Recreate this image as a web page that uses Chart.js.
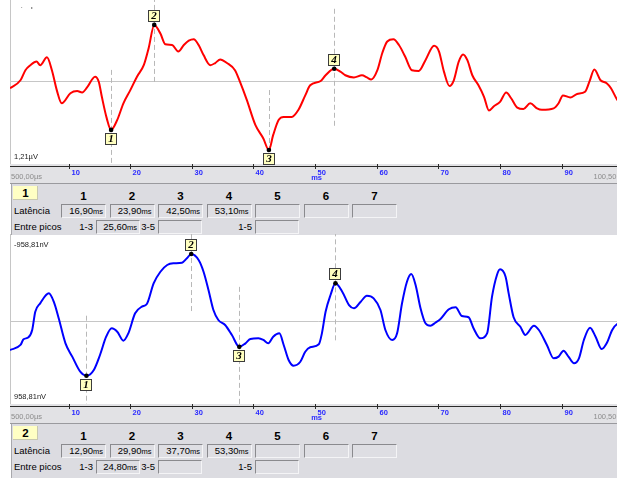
<!DOCTYPE html>
<html>
<head>
<meta charset="utf-8">
<script src="https://cdn.jsdelivr.net/npm/chart.js@4.4.1/dist/chart.umd.min.js"></script>
<style>
    html, body {
        margin: 0;
        padding: 0;
        width: 617px;
        height: 478px;
        overflow: hidden;
        background: #fff;
        font-family: "Liberation Sans", Arial, sans-serif;
    }
    .block { position: absolute; left: 0; width: 640px; height: 241px; }
    .block canvas { position: absolute; left: 0; top: 0; }
    .panel {
        position: absolute;
        left: 11px;
        top: 190px;
        width: 629px;
        height: 51px;
        background: #dcdce1;
        box-shadow: inset 1px 0 #a8a8ac;
    }
    .panel.last { height: 60px; }
    .panel div { position: absolute; white-space: nowrap; }
    .tab {
        width: 25px;
        height: 14px;
        line-height: 14px;
        background: #ffffc4;
        box-shadow: inset -1px -1px #c8c8b0;
        text-align: center;
        font-weight: bold;
        font-size: 11.5px;
    }
    .head { width: 45px; height: 14px; line-height: 14px; text-align: center; font-weight: bold; font-size: 11.5px; }
    .label { height: 14px; line-height: 14px; font-size: 9.5px; color: #000; }
    .sub { height: 14px; line-height: 14px; font-size: 9.5px; text-align: right; width: 20px; color: #000; }
    .field {
        box-sizing: border-box;
        width: 45px;
        height: 14px;
        line-height: 12px;
        border: 1px solid;
        border-color: #8a8a8e #f4f4f6 #f4f4f6 #8a8a8e;
        background: #dedee3;
        text-align: right;
        padding-right: 2px;
        font-size: 9.5px;
        color: #000;
    }
    .field small { font-size: 7.5px; }
</style>
</head>
<body>
<div class="block" id="block1" style="top:-6px">
    <canvas id="chartTop" width="640" height="190"></canvas>
    <div class="panel" id="panelTop"></div>
</div>
<div class="block" id="block2" style="top:234px">
    <canvas id="chartBottom" width="640" height="190"></canvas>
    <div class="panel last" id="panelBottom"></div>
</div>
<script>
// time axis (ms)
const timeRange = [0.5, 100.5];
const xTicks = [10, 20, 30, 40, 50, 60, 70, 80, 90];
const timeEndLabels = ['500,00µs', '100,50ms'];
const peakColumns = [1, 2, 3, 4, 5, 6, 7];
const interpeakPairs = [[1, 3], [3, 5], [1, 5]];

// trace 1 (µV, negative up)
const topRange = 1.21;
const topUnit = 'µV';
const topTimes = [0.5, 2.2, 3.0, 3.8, 4.8, 5.4, 6.5, 7.3, 8.1, 8.9, 10.3, 11.4, 12.2, 13.0, 14.3, 14.9, 15.4, 16.2, 16.9, 17.9,
    18.9, 20.0, 21.1, 22.2, 23.0, 23.9, 24.9, 25.7, 26.8, 27.8, 28.7, 29.5, 30.3, 31.1, 31.9, 33.0, 33.8, 34.6, 35.7, 37.0,
    37.8, 38.9, 40.3, 41.6, 42.5, 43.2, 44.1, 44.9, 46.2, 47.3, 48.4, 49.2, 50.9, 51.7, 53.1, 54.1, 54.9, 56.3, 57.6, 58.4,
    59.1, 60.1, 60.9, 61.7, 62.7, 63.6, 64.6, 65.7, 66.8, 67.9, 69.3, 70.1, 70.9, 71.8, 72.5, 73.3, 74.0, 74.7, 75.5, 76.5,
    77.4, 78.2, 79.0, 80.0, 81.0, 81.8, 82.8, 83.8, 84.9, 86.0, 86.8, 88.7, 89.5, 90.2, 91.4, 92.5, 93.8, 94.5, 95.3, 96.3,
    97.3, 98.0, 99.0, 100.5];
const topValues = [0.10, -0.01, -0.15, -0.22, -0.27, -0.22, -0.33, -0.15, 0.13, 0.31, 0.17, 0.14, 0.16, 0.09, -0.06, 0.01, 0.22, 0.52, 0.68, 0.54,
    0.31, 0.13, -0.06, -0.22, -0.46, -0.78, -0.66, -0.51, -0.50, -0.41, -0.50, -0.56, -0.58, -0.50, -0.36, -0.22, -0.25, -0.30, -0.25, -0.15,
    0.01, 0.26, 0.61, 0.80, 0.96, 0.75, 0.54, 0.50, 0.50, 0.40, 0.20, 0.06, 0.00, -0.08, -0.17, -0.13, -0.08, -0.05, -0.08, -0.05,
    -0.02, -0.15, -0.39, -0.55, -0.58, -0.50, -0.34, -0.15, -0.14, -0.29, -0.49, -0.41, -0.13, 0.07, -0.01, -0.27, -0.37, -0.29, -0.08, 0.06,
    0.22, 0.41, 0.35, 0.29, 0.16, 0.24, 0.37, 0.39, 0.31, 0.38, 0.40, 0.38, 0.31, 0.20, 0.23, 0.18, 0.15, 0.01, -0.16, -0.01,
    0.03, 0.10, 0.26, 0.40];
const topLatencies = [16.9, 23.9, 42.5, 53.1];

// trace 2 (nV, negative up)
const bottomRange = 958.81;
const bottomUnit = 'nV';
const bottomTimes = [0.5, 2.2, 2.7, 3.5, 4.1, 4.6, 5.4, 6.8, 7.6, 8.4, 9.5, 10.6, 11.9, 12.9, 14.1, 15.1, 16.1, 17.0, 17.9, 18.9,
    19.7, 20.8, 21.9, 22.7, 23.8, 24.9, 26.0, 27.0, 28.4, 29.2, 29.9, 31.1, 31.9, 32.7, 33.5, 34.3, 35.4, 36.5, 37.7, 38.7,
    39.5, 40.8, 41.6, 42.4, 43.2, 44.2, 44.9, 45.7, 46.5, 47.6, 48.4, 49.2, 50.6, 51.1, 51.7, 52.5, 53.3, 54.4, 55.5, 56.3,
    57.4, 58.4, 59.5, 60.6, 61.4, 62.5, 63.3, 64.1, 64.9, 65.6, 66.3, 67.1, 67.9, 68.7, 69.5, 70.3, 71.7, 72.8, 73.8, 74.9,
    75.7, 76.8, 77.9, 78.7, 79.5, 80.0, 80.9, 81.4, 82.2, 83.3, 84.1, 85.5, 86.3, 87.6, 88.7, 89.5, 90.3, 91.1, 92.0, 92.8,
    93.6, 94.6, 95.5, 96.5, 97.3, 98.2, 99.0, 100.5];
const bottomValues = [320, 264, 202, 180, 99, -102, -195, -305, -213, -30, 246, 393, 559, 603, 540, 375, 173, 80, 118, 217,
    136, -85, -158, -187, -415, -543, -617, -636, -642, -691, -738, -672, -543, -342, -121, -11, 44, 154, 285, 246,
    198, 191, 209, 246, 173, 136, 264, 430, 493, 449, 339, 290, 257, 136, -102, -287, -415, -323, -176, -140,
    -213, -279, -250, -121, 99, 209, 136, -195, -433, -518, -397, -140, 25, 52, 19, -19, -129, -151, -55, -41,
    80, 191, 136, -268, -507, -570, -488, -305, -41, 63, 154, 52, 99, 264, 411, 393, 327, 393, 466, 411,
    209, 74, 173, 309, 246, 99, 33, 10];
const bottomLatencies = [12.9, 29.9, 37.7, 53.3];

function fmt(v) {
    return v.toFixed(2).replace('.', ',');
}

function markerPoints(chart, latencies) {
    const data = chart.data.datasets[0].data;
    const meta = chart.getDatasetMeta(0);
    return latencies.map((t, n) => {
        const i = data.findIndex((d) => d.x === t);
        return { n: n + 1, x: meta.data[i].x, y: meta.data[i].y, below: data[i].y > 0 };
    });
}

const scopePlugin = {
    id: 'scope',
    beforeDatasetsDraw(chart, args, opts) {
        const { ctx, chartArea: a, scales } = chart;
        const y0 = Math.round(scales.y.getPixelForValue(0)) + 0.5;
        const lx = Math.round(a.left) + 0.5;
        ctx.save();
        ctx.lineWidth = 1;
        ctx.strokeStyle = '#c6c6c6';
        ctx.beginPath();
        ctx.moveTo(a.left, y0);
        ctx.lineTo(a.right, y0);
        ctx.moveTo(lx, a.top);
        ctx.lineTo(lx, a.bottom);
        ctx.stroke();

        ctx.beginPath();
        ctx.rect(a.left, a.top, a.right - a.left, a.bottom - a.top);
        ctx.clip();
        ctx.strokeStyle = '#b8b8b8';
        ctx.setLineDash([5, 3]);
        markerPoints(chart, opts.latencies).forEach((p) => {
            const x = Math.round(p.x) + 0.5;
            ctx.beginPath();
            ctx.moveTo(x, p.y - 60);
            ctx.lineTo(x, p.y + 60);
            ctx.stroke();
        });
        ctx.restore();
    },
    afterDraw(chart, args, opts) {
        const { ctx, chartArea: a, scales, width } = chart;
        const bandTop = a.bottom - 4;
        const bandBottom = a.bottom + 15;
        ctx.save();

        // axis strip
        ctx.fillStyle = '#e2e2e5';
        ctx.fillRect(a.left, bandTop, width - a.left, bandBottom - bandTop);
        ctx.fillStyle = '#9a9a9e';
        ctx.fillRect(a.left, bandBottom, width - a.left, 1);
        const axisY = Math.round(a.bottom - 2) + 0.5;
        ctx.strokeStyle = '#2a2a2a';
        ctx.lineWidth = 1;
        ctx.beginPath();
        ctx.moveTo(a.left, axisY);
        ctx.lineTo(width, axisY);
        ctx.stroke();

        ctx.font = 'bold 7.5px "Liberation Sans"';
        ctx.fillStyle = '#2a2aff';
        ctx.textBaseline = 'middle';
        ctx.textAlign = 'left';
        xTicks.forEach((t) => {
            const x = Math.round(scales.x.getPixelForValue(t)) + 0.5;
            ctx.beginPath();
            ctx.moveTo(x, bandTop);
            ctx.lineTo(x, bandTop + 5);
            ctx.stroke();
            ctx.fillText(String(t), x + 2, a.bottom + 5);
        });
        ctx.textAlign = 'center';
        ctx.fillText('ms', scales.x.getPixelForValue(50) + 1.5, a.bottom + 10);

        ctx.font = '7.5px "Liberation Sans"';
        ctx.fillStyle = '#8c8c8c';
        ctx.textAlign = 'left';
        ctx.fillText(timeEndLabels[0], a.left + 1, a.bottom + 9);
        ctx.textAlign = 'right';
        ctx.fillText(timeEndLabels[1], a.right, a.bottom + 9);

        // full scale labels
        ctx.font = '7.5px "Liberation Sans"';
        ctx.fillStyle = '#1a1a1a';
        ctx.textAlign = 'left';
        ctx.fillText(fmt(opts.range) + opts.unit, a.left + 4, a.bottom - 11);
        ctx.save();
        ctx.beginPath();
        ctx.rect(0, opts.clipTop, width, 40);
        ctx.clip();
        ctx.fillText('-' + fmt(opts.range) + opts.unit, a.left + 4, a.top + 11);
        ctx.restore();

        // peak markers
        markerPoints(chart, opts.latencies).forEach((p) => {
            const bx = Math.round(p.x) - 6;
            const by = p.below ? Math.round(p.y) + 3 : Math.round(p.y) - 15;
            ctx.fillStyle = '#ffffc0';
            ctx.fillRect(bx, by, 12, 12);
            ctx.strokeStyle = '#3c3c3c';
            ctx.strokeRect(bx + 0.5, by + 0.5, 11, 11);
            ctx.fillStyle = '#000';
            ctx.font = 'italic bold 11px "Liberation Serif"';
            ctx.textAlign = 'center';
            ctx.fillText(String(p.n), bx + 6, by + 6.5);
            ctx.beginPath();
            ctx.arc(p.x, p.y, 2.3, 0, Math.PI * 2);
            ctx.fill();
        });
        ctx.restore();
    },
};

function makeChart(id, times, values, color, range, unit, latencies, clipTop) {
    return new Chart(document.getElementById(id), {
        type: 'line',
        data: {
            datasets: [
                {
                    data: times.map((t, i) => ({ x: t, y: values[i] })),
                    borderColor: color,
                    borderWidth: 2,
                    pointRadius: 0,
                    cubicInterpolationMode: 'monotone',
                    fill: false,
                },
            ],
        },
        options: {
            responsive: false,
            animation: false,
            devicePixelRatio: 1,
            layout: { padding: { left: 10, right: 13.6, top: 0, bottom: 16 } },
            scales: {
                x: { type: 'linear', min: timeRange[0], max: timeRange[1], display: false },
                y: { min: -range, max: range, reverse: true, display: false },
            },
            plugins: {
                legend: { display: false },
                tooltip: { enabled: false },
                scope: { latencies, range, unit, clipTop },
            },
        },
        plugins: [scopePlugin],
    });
}

function addDiv(parent, cls, html, left, top) {
    const el = document.createElement('div');
    el.className = cls;
    el.innerHTML = html;
    el.style.left = left + 'px';
    el.style.top = top + 'px';
    parent.appendChild(el);
    return el;
}

function fieldHtml(v) {
    return v === undefined ? '' : `${fmt(v)}<small>ms</small>`;
}

function buildPanel(id, tabNumber, latencies) {
    const panel = document.getElementById(id);
    addDiv(panel, 'tab', String(tabNumber), 2, 2);
    peakColumns.forEach((c, k) => {
        const left = 50 + 48.5 * k;
        addDiv(panel, 'head', String(c), left, 5);
        addDiv(panel, 'field', fieldHtml(latencies[k]), left, 20);
    });
    addDiv(panel, 'label', 'Latência', 3, 20);
    addDiv(panel, 'label', 'Entre picos', 3, 36);

    const boxLefts = [85, 147, 244];
    interpeakPairs.forEach(([from, to], k) => {
        const a = latencies[from - 1];
        const b = latencies[to - 1];
        const diff = a !== undefined && b !== undefined ? b - a : undefined;
        addDiv(panel, 'sub', `${from}-${to}`, boxLefts[k] - 23, 36);
        const box = addDiv(panel, 'field', fieldHtml(diff), boxLefts[k], 36);
        box.style.width = '44px';
    });
}

makeChart('chartTop', topTimes, topValues, '#ff0000', topRange, topUnit, topLatencies, 13);
makeChart('chartBottom', bottomTimes, bottomValues, '#0000ff', bottomRange, bottomUnit, bottomLatencies, 0);
buildPanel('panelTop', 1, topLatencies);
buildPanel('panelBottom', 2, bottomLatencies);
</script>
</body>
</html>
